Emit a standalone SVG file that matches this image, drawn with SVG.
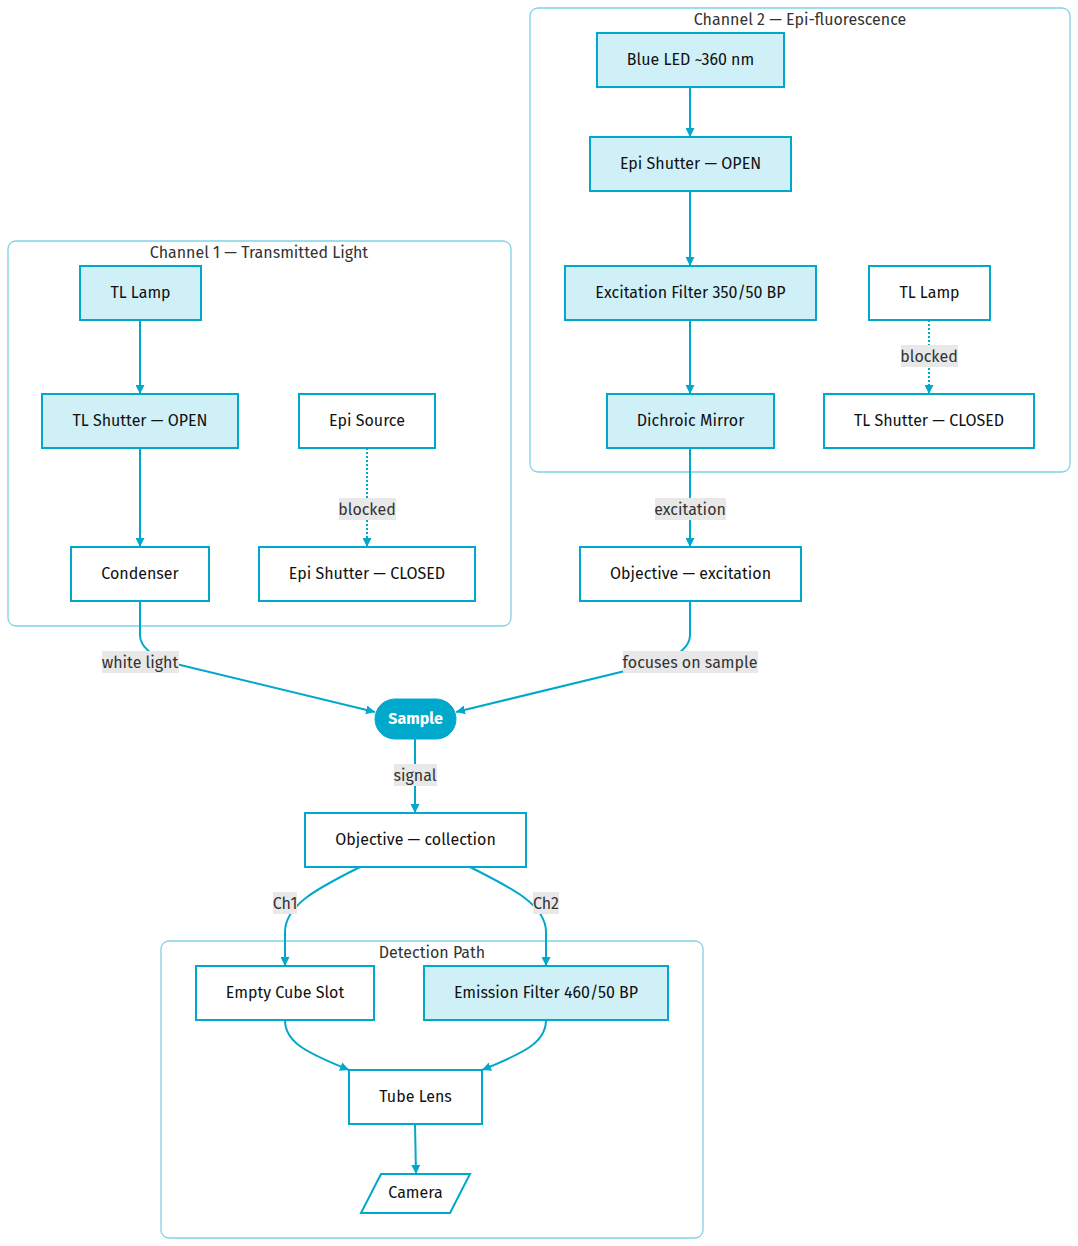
<svg xmlns="http://www.w3.org/2000/svg" width="1078" height="1246" viewBox="0 0 1078 1246">
<style>
text{font-family:"Fira Sans","Lato","Noto Sans","Liberation Sans",sans-serif;}
.cl{fill:none;stroke:#7fd3e6;stroke-width:1.3;}
.ct{font-size:16px;fill:#333;text-anchor:middle;}
.n{stroke:#00a8cc;stroke-width:2;fill:#ffffff;}
.f{fill:#d0f0f8;}
.t{font-size:16px;fill:#111;text-anchor:middle;dominant-baseline:central;}
.e{fill:none;stroke:#00a8cc;stroke-width:2;}
.d{stroke-dasharray:2 2;}
.lb{fill:#e8e8e8;}
.lt{font-size:16px;fill:#333;text-anchor:middle;dominant-baseline:central;}
</style>
<defs>
<marker id="ad" viewBox="0 0 10 10" refX="10" refY="5" markerWidth="9" markerHeight="9" orient="auto" markerUnits="userSpaceOnUse">
<path d="M0,0 L10,5 L0,10 z" fill="#00a8cc"/>
</marker>
</defs>
<rect width="1078" height="1246" fill="#ffffff"/>
<g id="clusters">
<g id="ch1"><rect class="cl" x="8" y="241" width="503" height="385" rx="8"/><text class="ct" x="259" y="258">Channel 1 — Transmitted Light</text></g>
<g id="ch2"><rect class="cl" x="530" y="8" width="540" height="464" rx="8"/><text class="ct" x="800" y="25">Channel 2 — Epi-fluorescence</text></g>
<g id="det"><rect class="cl" x="161" y="941" width="542" height="297" rx="8"/><text class="ct" x="432" y="958">Detection Path</text></g>
</g>
<g id="connectors">
<path class="e" marker-end="url(#ad)" d="M140,320 L140,394"/>
<path class="e" marker-end="url(#ad)" d="M140,448 L140,547"/>
<path class="e d" marker-end="url(#ad)" d="M367,448 L367,547"/>
<path class="e" marker-end="url(#ad)" d="M690,87 L690,137"/>
<path class="e" marker-end="url(#ad)" d="M690,191 L690,266"/>
<path class="e" marker-end="url(#ad)" d="M690,320 L690,394"/>
<path class="e d" marker-end="url(#ad)" d="M929,320 L929,394"/>
<path class="e" marker-end="url(#ad)" d="M690,448 L690,547"/>
<path class="e" marker-end="url(#ad)" d="M140,601 L140,635 Q140,652 172,663 L375,712"/>
<path class="e" marker-end="url(#ad)" d="M690,601 L690,635 Q690,652 658,663 L456,712"/>
<path class="e" marker-end="url(#ad)" d="M415,739 L415,813"/>
<path class="e" marker-end="url(#ad)" d="M360,867 C318,888 285,905 285,932 L285,966"/>
<path class="e" marker-end="url(#ad)" d="M470,867 C512,888 546,905 546,932 L546,966"/>
<path class="e" marker-end="url(#ad)" d="M285,1020 C285,1042 305,1052 349,1070"/>
<path class="e" marker-end="url(#ad)" d="M546,1020 C546,1042 526,1052 482,1070"/>
<path class="e" marker-end="url(#ad)" d="M415,1124 L416,1174"/>
</g>
<g id="edge-labels">
<rect class="lb" x="339" y="498" width="57" height="22"/><text class="lt" x="367" y="509">blocked</text>
<rect class="lb" x="901" y="345" width="57" height="22"/><text class="lt" x="929" y="356">blocked</text>
<rect class="lb" x="655" y="498" width="71" height="22"/><text class="lt" x="690" y="509">excitation</text>
<rect class="lb" x="102" y="651" width="77" height="22"/><text class="lt" x="140" y="662">white light</text>
<rect class="lb" x="623" y="651" width="135" height="22"/><text class="lt" x="690" y="662">focuses on sample</text>
<rect class="lb" x="394" y="764" width="43" height="22"/><text class="lt" x="415" y="775">signal</text>
<rect class="lb" x="273" y="892" width="24" height="22"/><text class="lt" x="285" y="903">Ch1</text>
<rect class="lb" x="533" y="892" width="26" height="22"/><text class="lt" x="546" y="903">Ch2</text>
</g>
<g id="n-tllamp1"><rect class="n f" x="80" y="266" width="121" height="54"/><text class="t" x="140.5" y="292">TL Lamp</text></g>
<g id="n-tlshutter-open"><rect class="n f" x="42" y="394" width="196" height="54"/><text class="t" x="140" y="420">TL Shutter — OPEN</text></g>
<g id="n-episource"><rect class="n" x="299" y="394" width="136" height="54"/><text class="t" x="367" y="420">Epi Source</text></g>
<g id="n-condenser"><rect class="n" x="71" y="547" width="138" height="54"/><text class="t" x="140" y="573">Condenser</text></g>
<g id="n-epishutter-closed"><rect class="n" x="259" y="547" width="216" height="54"/><text class="t" x="367" y="573">Epi Shutter — CLOSED</text></g>
<g id="n-blueled"><rect class="n f" x="597" y="33" width="187" height="54"/><text class="t" x="690.5" y="59">Blue LED ~360 nm</text></g>
<g id="n-epishutter-open"><rect class="n f" x="590" y="137" width="201" height="54"/><text class="t" x="690.5" y="163">Epi Shutter — OPEN</text></g>
<g id="n-excitation"><rect class="n f" x="565" y="266" width="251" height="54"/><text class="t" x="690.5" y="292">Excitation Filter 350/50 BP</text></g>
<g id="n-tllamp2"><rect class="n" x="869" y="266" width="121" height="54"/><text class="t" x="929.5" y="292">TL Lamp</text></g>
<g id="n-dichroic"><rect class="n f" x="607" y="394" width="167" height="54"/><text class="t" x="690.5" y="420">Dichroic Mirror</text></g>
<g id="n-tlshutter-closed"><rect class="n" x="824" y="394" width="210" height="54"/><text class="t" x="929" y="420">TL Shutter — CLOSED</text></g>
<g id="n-obj-exc"><rect class="n" x="580" y="547" width="221" height="54"/><text class="t" x="690.5" y="573">Objective — excitation</text></g>
<g id="n-sample"><rect x="375" y="699" width="81" height="40" rx="20" fill="#00a8cc" stroke="#00a8cc" stroke-width="1"/><text class="t" x="415.5" y="718" style="fill:#fff;font-weight:bold">Sample</text></g>
<g id="n-obj-col"><rect class="n" x="305" y="813" width="221" height="54"/><text class="t" x="415.5" y="839">Objective — collection</text></g>
<g id="n-empty"><rect class="n" x="196" y="966" width="178" height="54"/><text class="t" x="285" y="992">Empty Cube Slot</text></g>
<g id="n-emission"><rect class="n f" x="424" y="966" width="244" height="54"/><text class="t" x="546" y="992">Emission Filter 460/50 BP</text></g>
<g id="n-tubelens"><rect class="n" x="349" y="1070" width="133" height="54"/><text class="t" x="415.5" y="1096">Tube Lens</text></g>
<g id="n-camera"><polygon class="n" points="381,1174 470,1174 450,1213 361,1213"/><text class="t" x="415.5" y="1192.5">Camera</text></g>
</svg>
